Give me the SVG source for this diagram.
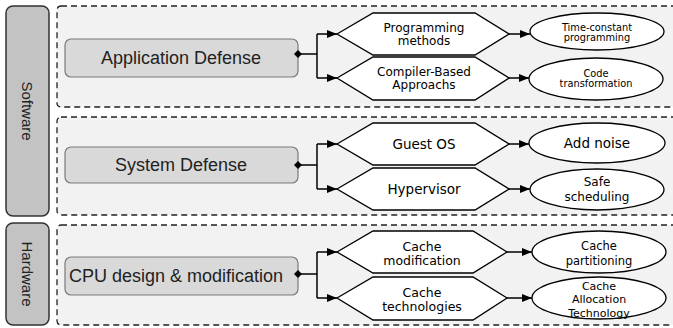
<svg xmlns="http://www.w3.org/2000/svg" width="673" height="328" viewBox="0 0 673 328">
<defs>
<marker id="arr" markerWidth="10" markerHeight="8" refX="10" refY="4" orient="auto" markerUnits="userSpaceOnUse">
<path d="M0,0 L10,4 L0,8 Z" fill="#000"/>
</marker>
<marker id="dia" markerWidth="8" markerHeight="8" refX="4" refY="4" orient="auto" markerUnits="userSpaceOnUse">
<path d="M0,4 L4,0 L8,4 L4,8 Z" fill="#000"/>
</marker>
<style>
.sect{fill:#f2f2f2;stroke:#222;stroke-width:1.3;stroke-dasharray:6,4}
.side{fill:#c3c3c3;stroke:#333;stroke-width:1.5}
.main{fill:#d9d9d9;stroke:#7a7a7a;stroke-width:1.2}
.hex{fill:#fff;stroke:#000;stroke-width:1.3}
.ell{fill:#fff;stroke:#000;stroke-width:1.3}
.conn{fill:none;stroke:#000;stroke-width:1.5}
.lbl{font-family:"Liberation Sans",Arial,sans-serif;font-size:18px;fill:#222;text-anchor:middle;dominant-baseline:central}
.side-t{font-family:"Liberation Sans",Arial,sans-serif;font-size:15px;fill:#222;text-anchor:middle;dominant-baseline:central}
.t{font-family:"DejaVu Sans",Verdana,sans-serif;fill:#000;text-anchor:middle;dominant-baseline:central}
</style>
</defs>

<g id="sections">
<rect class="sect" x="57" y="6" width="640" height="101" rx="4"/>
<rect class="sect" x="57" y="117" width="640" height="98" rx="4"/>
<rect class="sect" x="57" y="225" width="640" height="100" rx="4"/>
</g>

<g id="software">
<rect class="side" x="6" y="6" width="43" height="210" rx="7"/>
<text class="side-t" transform="translate(27.5,111) rotate(90)">Software</text>
</g>
<g id="hardware">
<rect class="side" x="6" y="223" width="43" height="102" rx="7"/>
<text class="side-t" transform="translate(27.5,274) rotate(90)">Hardware</text>
</g>

<g id="app-defense">
<rect class="main" x="65" y="39" width="233" height="38" rx="6"/>
<text class="lbl" x="181" y="58">Application Defense</text>
</g>
<g id="system-defense">
<rect class="main" x="65" y="147" width="233" height="36" rx="6"/>
<text class="lbl" x="181" y="165">System Defense</text>
</g>
<g id="cpu-design">
<rect class="main" x="65" y="257" width="233" height="38" rx="6"/>
<text class="lbl" x="176" y="276">CPU design &amp; modification</text>
</g>

<g id="programming-methods">
<polygon class="hex" points="337,34 373,13 475,13 509,34 475,55 373,55"/>
<text class="t" font-size="12"><tspan x="424" y="27.5">Programming</tspan><tspan x="424" y="40.5">methods</tspan></text>
</g>
<g id="compiler-based">
<polygon class="hex" points="337,78 373,57 475,57 509,78 475,100 373,100"/>
<text class="t" font-size="12"><tspan x="424" y="72">Compiler-Based</tspan><tspan x="424" y="85">Approachs</tspan></text>
</g>
<g id="guest-os">
<polygon class="hex" points="337,144 373,123 475,123 509,144 475,165 373,165"/>
<text class="t" font-size="13.5" x="424" y="144">Guest OS</text>
</g>
<g id="hypervisor">
<polygon class="hex" points="337,189 373,168 475,168 509,189 475,210 373,210"/>
<text class="t" font-size="13.5" x="424" y="189">Hypervisor</text>
</g>
<g id="cache-modification">
<polygon class="hex" points="337,252 373,231 473,231 507,252 473,273 373,273"/>
<text class="t" font-size="12.5"><tspan x="422" y="245.5">Cache</tspan><tspan x="422" y="259.5">modification</tspan></text>
</g>
<g id="cache-technologies">
<polygon class="hex" points="337,298 373,277 473,277 507,298 473,320 373,320"/>
<text class="t" font-size="12.5"><tspan x="422" y="292">Cache</tspan><tspan x="422" y="306">technologies</tspan></text>
</g>

<g id="time-constant">
<ellipse class="ell" cx="597" cy="31.5" rx="67" ry="18.5"/>
<text class="t" font-size="9.8"><tspan x="597" y="27">Time-constant</tspan><tspan x="597" y="37">programming</tspan></text>
</g>
<g id="code-transformation">
<ellipse class="ell" cx="596" cy="79" rx="67" ry="21"/>
<text class="t" font-size="9.8"><tspan x="596" y="73">Code</tspan><tspan x="596" y="83">transformation</tspan></text>
</g>
<g id="add-noise">
<ellipse class="ell" cx="597" cy="143" rx="68" ry="20"/>
<text class="t" font-size="13.5" x="597" y="143">Add noise</text>
</g>
<g id="safe-scheduling">
<ellipse class="ell" cx="597" cy="189.5" rx="67" ry="20.5"/>
<text class="t" font-size="12"><tspan x="597" y="182">Safe</tspan><tspan x="597" y="197">scheduling</tspan></text>
</g>
<g id="cache-partitioning">
<ellipse class="ell" cx="599" cy="252" rx="67" ry="21"/>
<text class="t" font-size="11.5"><tspan x="599" y="246">Cache</tspan><tspan x="599" y="261">partitioning</tspan></text>
</g>
<g id="cat">
<ellipse class="ell" cx="599" cy="298" rx="67" ry="21"/>
<text class="t" font-size="11"><tspan x="599" y="285.5">Cache</tspan><tspan x="599" y="299">Allocation</tspan><tspan x="599" y="312.5">Technology</tspan></text>
</g>

<g id="connectors">
<path class="conn" d="M298,54 L317,54" marker-start="url(#dia)"/>
<path class="conn" d="M317,34 L317,78"/>
<path class="conn" d="M317,34 L337,34" marker-end="url(#arr)"/>
<path class="conn" d="M317,78 L337,78" marker-end="url(#arr)"/>
<path class="conn" d="M509,34 L530,34" marker-end="url(#arr)"/>
<path class="conn" d="M509,78 L529,78" marker-end="url(#arr)"/>

<path class="conn" d="M298,165 L317,165" marker-start="url(#dia)"/>
<path class="conn" d="M317,144 L317,189"/>
<path class="conn" d="M317,144 L337,144" marker-end="url(#arr)"/>
<path class="conn" d="M317,189 L337,189" marker-end="url(#arr)"/>
<path class="conn" d="M509,144 L529,144" marker-end="url(#arr)"/>
<path class="conn" d="M509,189 L530,189" marker-end="url(#arr)"/>

<path class="conn" d="M298,274 L317,274" marker-start="url(#dia)"/>
<path class="conn" d="M317,252 L317,298"/>
<path class="conn" d="M317,252 L337,252" marker-end="url(#arr)"/>
<path class="conn" d="M317,298 L337,298" marker-end="url(#arr)"/>
<path class="conn" d="M507,252 L532,252" marker-end="url(#arr)"/>
<path class="conn" d="M507,298 L532,298" marker-end="url(#arr)"/>
</g>
</svg>
